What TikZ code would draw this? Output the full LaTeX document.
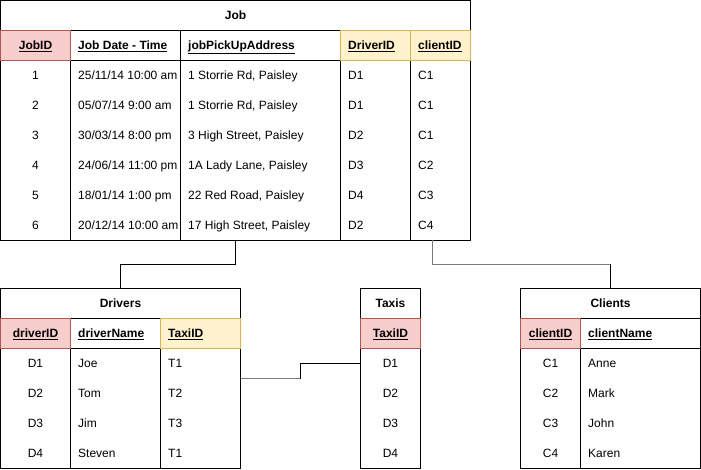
\documentclass[tikz,border=0pt]{standalone}
\usepackage{fontspec}
\setmainfont{Liberation Sans}
\usetikzlibrary{calc}
\definecolor{pkfill}{HTML}{F8CECC}
\definecolor{pkline}{HTML}{B85450}
\definecolor{fkfill}{HTML}{FFF2CC}
\definecolor{fkline}{HTML}{D6B656}
\definecolor{conngray}{HTML}{7A7A7A}
\tikzset{
  tablebox/.style={draw, line width=1pt, inner sep=0pt, outer sep=0pt, anchor=north west},
  pkcell/.style={draw=pkline, fill=pkfill, line width=1pt, inner sep=0pt, outer sep=0pt, anchor=north west},
  fkcell/.style={draw=fkline, fill=fkfill, line width=1pt, inner sep=0pt, outer sep=0pt, anchor=north west},
  grid/.style={line width=1pt},
  txt/.style={inner sep=0pt, text height=8.6pt, text depth=0pt, font=\fontsize{12}{14}\selectfont},
  lt/.style={txt, anchor=west},
  ct/.style={txt, anchor=center},
  hd/.style={txt, font=\fontsize{12}{14}\selectfont\bfseries},
  hl/.style={hd, anchor=west},
  hc/.style={hd, anchor=center},
  conn/.style={line width=1pt, black},
  conng/.style={line width=1.4pt, conngray},
}
\begin{document}
\begin{tikzpicture}[x=1pt,y=-1pt]
\useasboundingbox (0,0) rectangle (701,470);
\fill[white] (0,0) rectangle (701,470);

% ================= Job =================
\node[tablebox, minimum width=470pt, minimum height=240pt] (job) at (0.5,0.5) {};
\draw[grid] (0.5,60.5) -- (470.5,60.5);
\draw[grid] (0.5,30.5) -- (470.5,30.5);
\foreach \x in {70.5,180.5,340.5,410.5} \draw[grid] (\x,30.5) -- (\x,240.5);
\node[pkcell, minimum width=70pt, minimum height=30pt] (jpk) at (0.5,30.5) {};
\node[fkcell, minimum width=70pt, minimum height=30pt] (jfk1) at (340.5,30.5) {};
\node[fkcell, minimum width=60pt, minimum height=30pt] (jfk2) at (410.5,30.5) {};
\node[hc] (jobT) at (235.5,15.5) {Job};
\node[hc] (jh1) at (35.5,45.5) {\underline{JobID}};
\node[hl] (jh2) at (78,45.5) {\underline{Job Date - Time}};
\node[hl] (jh3) at (188,45.5) {\underline{jobPickUpAddress}};
\node[hl] (jh4) at (348,45.5) {\underline{DriverID}};
\node[hl] (jh5) at (418,45.5) {\underline{clientID}};

\node[ct] (j11) at (35.5,75.5) {1};
\node[lt] (j12) at (78,75.5) {25/11/14 10:00 am};
\node[lt] (j13) at (188,75.5) {1 Storrie Rd, Paisley};
\node[lt] (j14) at (348,75.5) {D1};
\node[lt] (j15) at (418,75.5) {C1};

\node[ct] (j21) at (35.5,105.5) {2};
\node[lt] (j22) at (78,105.5) {05/07/14 9:00 am};
\node[lt] (j23) at (188,105.5) {1 Storrie Rd, Paisley};
\node[lt] (j24) at (348,105.5) {D1};
\node[lt] (j25) at (418,105.5) {C1};

\node[ct] (j31) at (35.5,135.5) {3};
\node[lt] (j32) at (78,135.5) {30/03/14 8:00 pm};
\node[lt] (j33) at (188,135.5) {3 High Street, Paisley};
\node[lt] (j34) at (348,135.5) {D2};
\node[lt] (j35) at (418,135.5) {C1};

\node[ct] (j41) at (35.5,165.5) {4};
\node[lt] (j42) at (78,165.5) {24/06/14 11:00 pm};
\node[lt] (j43) at (188,165.5) {1A Lady Lane, Paisley};
\node[lt] (j44) at (348,165.5) {D3};
\node[lt] (j45) at (418,165.5) {C2};

\node[ct] (j51) at (35.5,195.5) {5};
\node[lt] (j52) at (78,195.5) {18/01/14 1:00 pm};
\node[lt] (j53) at (188,195.5) {22 Red Road, Paisley};
\node[lt] (j54) at (348,195.5) {D4};
\node[lt] (j55) at (418,195.5) {C3};

\node[ct] (j61) at (35.5,225.5) {6};
\node[lt] (j62) at (78,225.5) {20/12/14 10:00 am};
\node[lt] (j63) at (188,225.5) {17 High Street, Paisley};
\node[lt] (j64) at (348,225.5) {D2};
\node[lt] (j65) at (418,225.5) {C4};

% ================= Drivers =================
\node[tablebox, minimum width=240pt, minimum height=180pt] (drivers) at (0.5,288.5) {};
\draw[grid] (0.5,318.5) -- (240.5,318.5);
\draw[grid] (0.5,348.5) -- (240.5,348.5);
\foreach \x in {70.5,160.5} \draw[grid] (\x,318.5) -- (\x,468.5);
\node[pkcell, minimum width=70pt, minimum height=30pt] (dpk) at (0.5,318.5) {};
\node[fkcell, minimum width=80pt, minimum height=30pt] (dfk) at (160.5,318.5) {};
\node[hc] (drvT) at (120.5,303.5) {Drivers};
\node[hc] (dh1) at (35.5,333.5) {\underline{driverID}};
\node[hl] (dh2) at (78,333.5) {\underline{driverName}};
\node[hl] (dh3) at (168,333.5) {\underline{TaxiID}};

\node[ct] (d11) at (35.5,363.5) {D1};
\node[lt] (d12) at (78,363.5) {Joe};
\node[lt] (d13) at (168,363.5) {T1};
\node[ct] (d21) at (35.5,393.5) {D2};
\node[lt] (d22) at (78,393.5) {Tom};
\node[lt] (d23) at (168,393.5) {T2};
\node[ct] (d31) at (35.5,423.5) {D3};
\node[lt] (d32) at (78,423.5) {Jim};
\node[lt] (d33) at (168,423.5) {T3};
\node[ct] (d41) at (35.5,453.5) {D4};
\node[lt] (d42) at (78,453.5) {Steven};
\node[lt] (d43) at (168,453.5) {T1};

% ================= Taxis =================
\node[tablebox, minimum width=60pt, minimum height=180pt] (taxis) at (360.5,288.5) {};
\draw[grid] (360.5,318.5) -- (420.5,318.5);
\node[pkcell, minimum width=60pt, minimum height=30pt] (tpk) at (360.5,318.5) {};
\node[hc] (taxT) at (390.5,303.5) {Taxis};
\node[hc] (th1) at (390.5,333.5) {\underline{TaxiID}};
\node[ct] (t1) at (390.5,363.5) {D1};
\node[ct] (t2) at (390.5,393.5) {D2};
\node[ct] (t3) at (390.5,423.5) {D3};
\node[ct] (t4) at (390.5,453.5) {D4};

% ================= Clients =================
\node[tablebox, minimum width=180pt, minimum height=180pt] (clients) at (520.5,288.5) {};
\draw[grid] (520.5,318.5) -- (700.5,318.5);
\draw[grid] (520.5,348.5) -- (700.5,348.5);
\draw[grid] (580.5,318.5) -- (580.5,468.5);
\node[pkcell, minimum width=60pt, minimum height=30pt] (cpk) at (520.5,318.5) {};
\node[hc] (cliT) at (610.5,303.5) {Clients};
\node[hc] (ch1) at (550.5,333.5) {\underline{clientID}};
\node[hl] (ch2) at (588,333.5) {\underline{clientName}};
\node[ct] (c11) at (550.5,363.5) {C1};
\node[lt] (c12) at (588,363.5) {Anne};
\node[ct] (c21) at (550.5,393.5) {C2};
\node[lt] (c22) at (588,393.5) {Mark};
\node[ct] (c31) at (550.5,423.5) {C3};
\node[lt] (c32) at (588,423.5) {John};
\node[ct] (c41) at (550.5,453.5) {C4};
\node[lt] (c42) at (588,453.5) {Karen};

% ================= Connectors =================
\coordinate (mid) at ($(job.south)!0.5!(drivers.north)$);
\draw[conn] (job.south) -- (job.south |- mid) -| (drivers.north);

\coordinate (jc) at ([xshift=432pt]job.south west);
\coordinate (cbend) at (clients.north |- mid);
\draw[conng] (jc) -- (jc |- mid) -- (cbend);
\draw[conn] (cbend) -- (clients.north);

\coordinate (dtmid) at ($(drivers.east)!0.5!(taxis.west)$);
\coordinate (dtbend) at (dtmid |- drivers.east);
\draw[conng] (drivers.east) -- (dtbend);
\draw[conn] (dtbend) |- (taxis.west |- t1);
\end{tikzpicture}
\end{document}
